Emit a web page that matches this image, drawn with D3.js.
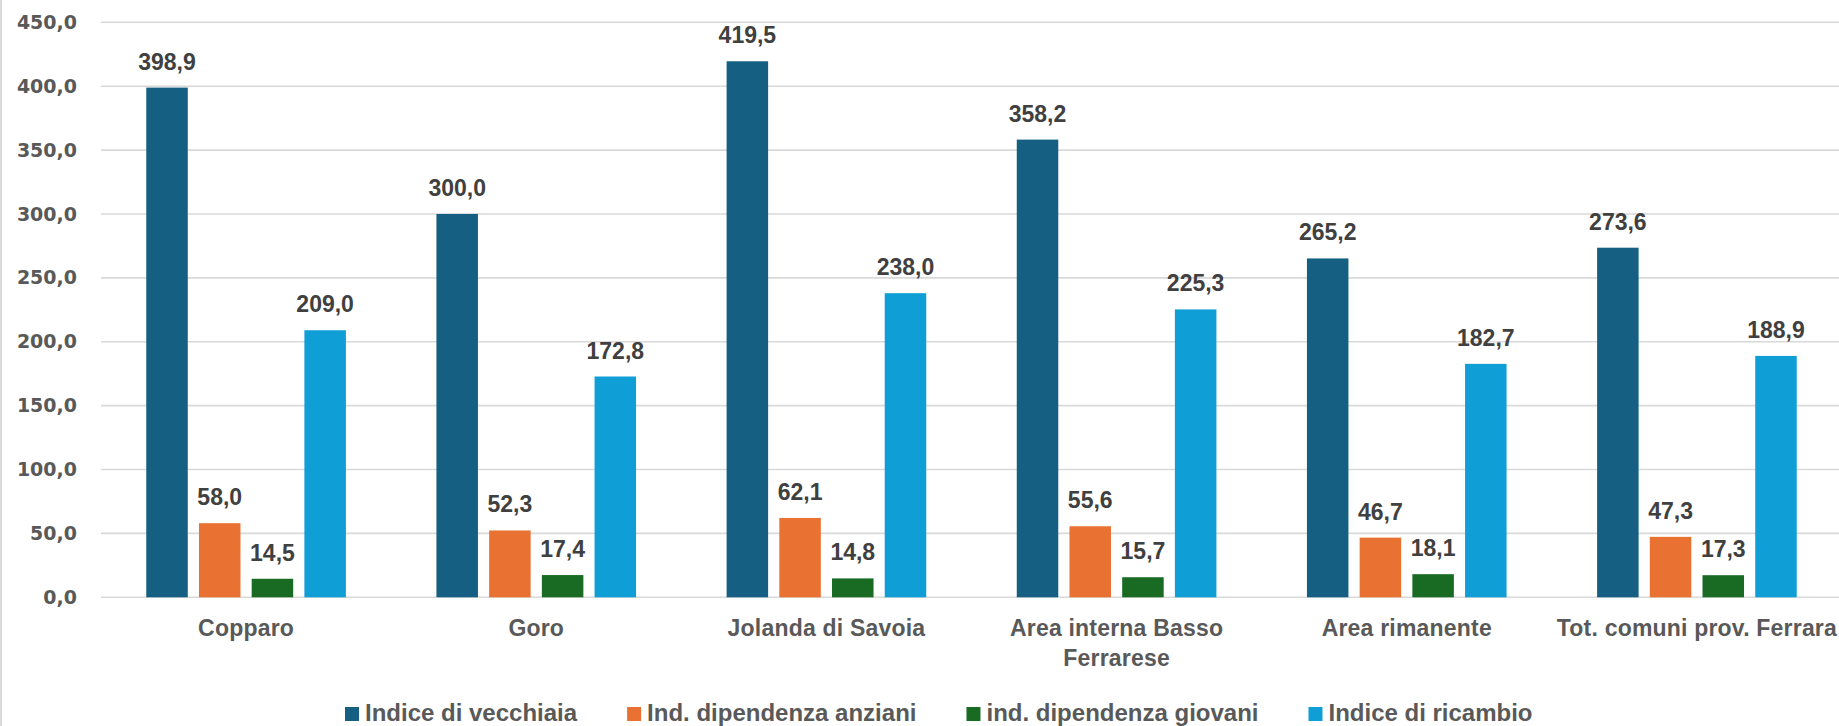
<!DOCTYPE html>
<html>
<head>
<meta charset="utf-8">
<script src="https://cdn.jsdelivr.net/npm/d3@7"></script>
<style>
  html, body { margin: 0; padding: 0; background: #ffffff; }
  svg { display: block; }
</style>
</head>
<body>
<script>
// ---- data ----
const categories = ["Copparo", "Goro", "Jolanda di Savoia", "Area interna Basso Ferrarese", "Area rimanente", "Tot. comuni prov. Ferrara"];
const seriesNames = ["Indice di vecchiaia", "Ind. dipendenza anziani", "ind. dipendenza giovani", "Indice di ricambio"];
const indiceVecchiaia = [398.9, 300.0, 419.5, 358.2, 265.2, 273.6];
const dipendenzaAnziani = [58.0, 52.3, 62.1, 55.6, 46.7, 47.3];
const dipendenzaGiovani = [14.5, 17.4, 14.8, 15.7, 18.1, 17.3];
const indiceRicambio = [209.0, 172.8, 238.0, 225.3, 182.7, 188.9];
const yTicks = [0, 50, 100, 150, 200, 250, 300, 350, 400, 450];
const seriesColors = ["#156082", "#E97132", "#196B24", "#0F9ED5"];

const seriesValues = [indiceVecchiaia, dipendenzaAnziani, dipendenzaGiovani, indiceRicambio];

// ---- layout ----
const W = 1839, H = 726;
const plotLeft = 101, plotRight = 1842, plotTop = 22.3, plotBottom = 597.3;

const fmt = v => d3.format(".1f")(v).replace(".", ",");

const svg = d3.select("body").append("svg").attr("width", W).attr("height", H);

// left border of chart area
svg.append("line").attr("x1", 1).attr("x2", 1).attr("y1", 0).attr("y2", H)
  .attr("stroke", "#d9d9d9").attr("stroke-width", 2);

const y = d3.scaleLinear().domain([0, 450]).range([plotBottom, plotTop]);
const x0 = d3.scaleBand().domain(categories).range([plotLeft, plotRight])
  .paddingInner(0.312).paddingOuter(0.156);
const x1 = d3.scaleBand().domain(seriesNames).range([0, x0.bandwidth()]).paddingInner(0.2125);
const color = d3.scaleOrdinal().domain(seriesNames).range(seriesColors);

// gridlines
svg.append("g").selectAll("line").data(yTicks).join("line")
  .attr("x1", plotLeft).attr("x2", W)
  .attr("y1", d => y(d)).attr("y2", d => y(d))
  .attr("stroke", "#d9d9d9").attr("stroke-width", 1.6);

// y axis labels
const yAxis = d3.axisLeft(y).tickValues(yTicks).tickFormat(fmt).tickSize(0).tickPadding(0);
const yg = svg.append("g").attr("transform", "translate(77,0)").call(yAxis);
yg.select(".domain").remove();
yg.selectAll("text")
  .attr("font-family", "'DejaVu Sans', sans-serif")
  .attr("font-weight", "bold")
  .attr("font-size", "19px")
  .attr("fill", "#595959");

// bars
const rows = categories.map((c, i) => ({ cat: c, vals: seriesNames.map((s, j) => ({ s, v: seriesValues[j][i] })) }));
const groups = svg.append("g").selectAll("g").data(rows).join("g")
  .attr("transform", d => `translate(${x0(d.cat)},0)`);

groups.selectAll("rect").data(d => d.vals).join("rect")
  .attr("x", d => x1(d.s))
  .attr("width", x1.bandwidth())
  .attr("y", d => y(d.v))
  .attr("height", d => y(0) - y(d.v))
  .attr("fill", d => color(d.s));

groups.selectAll("text").data(d => d.vals).join("text")
  .attr("x", d => x1(d.s) + x1.bandwidth() / 2)
  .attr("y", d => y(d.v) - 18)
  .attr("text-anchor", "middle")
  .attr("font-family", "'Liberation Sans', Arial, sans-serif")
  .attr("font-weight", "bold")
  .attr("font-size", "23px")
  .attr("fill", "#404040")
  .text(d => fmt(d.v));

// x axis category labels
const xAxis = d3.axisBottom(x0).tickSize(0).tickPadding(0);
const xg = svg.append("g").attr("transform", `translate(0,${plotBottom})`).call(xAxis);
xg.select(".domain").remove();
xg.selectAll("text")
  .attr("font-family", "'Liberation Sans', Arial, sans-serif")
  .attr("font-weight", "bold")
  .attr("font-size", "23px")
  .attr("letter-spacing", "0.2px")
  .attr("fill", "#595959")
  .attr("dy", null)
  .attr("y", 0)
  .each(function (d) {
    const t = d3.select(this);
    const words = d.split(" ");
    t.text(null);
    const maxW = x0.step() + 8;
    let line = [];
    let lines = [];
    let tspan = t.append("tspan");
    words.forEach(w => {
      line.push(w);
      tspan.text(line.join(" "));
      if (tspan.node().getComputedTextLength() > maxW && line.length > 1) {
        line.pop();
        lines.push(line.join(" "));
        line = [w];
        tspan.text(w);
      }
    });
    lines.push(line.join(" "));
    t.text(null);
    lines.forEach((l, i) => {
      t.append("tspan").attr("x", 0).attr("y", 39 + i * 30).text(l);
    });
  });

// legend
const legend = svg.append("g");
let lx = 345;
seriesNames.forEach((s, i) => {
  const g = legend.append("g");
  g.append("rect").attr("x", lx).attr("y", 707).attr("width", 14).attr("height", 14).attr("fill", seriesColors[i]);
  const t = g.append("text").attr("x", lx + 20).attr("y", 721)
    .attr("font-family", "'Liberation Sans', Arial, sans-serif")
    .attr("font-weight", "bold")
    .attr("font-size", "24px")
    .attr("fill", "#595959")
    .text(s);
  lx += 20 + t.node().getComputedTextLength() + 50;
});
</script>
</body>
</html>
